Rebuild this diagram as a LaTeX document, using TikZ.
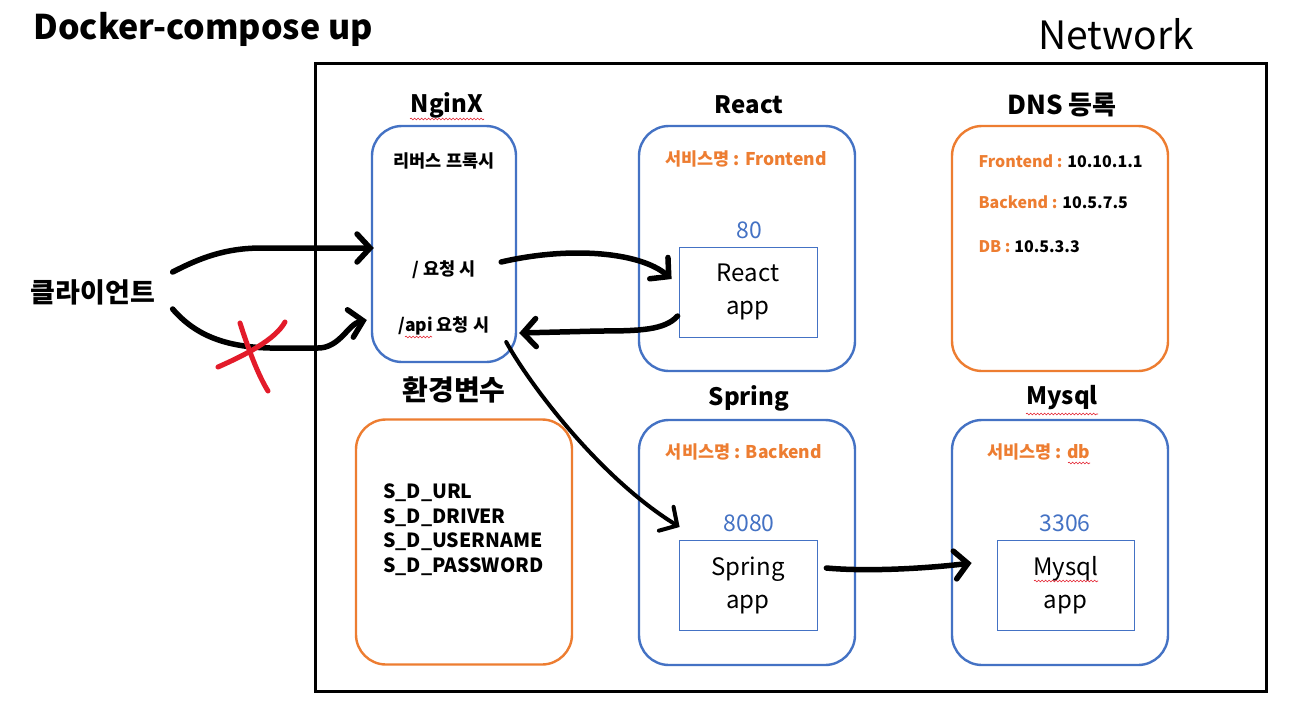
\documentclass[tikz,border=0pt]{standalone}
\usepackage{fontspec}
\setmainfont{Noto Sans CJK KR}
\usetikzlibrary{arrows.meta,decorations.pathmorphing,calc}
\definecolor{bl}{HTML}{4472C4}
\definecolor{orr}{HTML}{ED7D31}
\definecolor{rd}{HTML}{E31B2A}
\begin{document}
\begin{tikzpicture}[x=1pt,y=-1pt,
  bigbox/.style={draw=#1,line width=2.4pt,rounded corners=30pt,minimum width=216pt,minimum height=245pt,inner sep=0pt},
  appbox/.style={draw=bl,line width=0.8pt,minimum width=138pt,minimum height=90pt,inner sep=0pt,align=center,font=\fontsize{24}{33}\selectfont},
  head/.style={font=\fontsize{24}{28}\selectfont\bfseries},
  small/.style={font=\fontsize{17.5}{20}\selectfont\bfseries},
  port/.style={text=bl,font=\fontsize{23}{26}\selectfont},
  svcname/.style={text=orr,font=\fontsize{17.5}{20}\selectfont\bfseries},
  dnst/.style={anchor=west,font=\fontsize{16}{19}\selectfont\bfseries},
  hand/.style={line width=5.5pt,line cap=round,line join=round,-{Straight Barb[length=13pt,width=28pt,line cap=round]}},
  squig/.style={draw=rd,line width=0.6pt,decorate,decoration={snake,amplitude=0.9pt,segment length=3.5pt}}]
\useasboundingbox (0,0) rectangle (1304,715);
\fill[white] (0,0) rectangle (1304,715);

% titles
\node[anchor=west,font=\fontsize{34}{39}\selectfont\bfseries] (title) at (30,29) {Docker-compose up};
\node[font=\fontsize{39}{46}\selectfont] (net) at (1116,34) {Network};
\node[draw,line width=3pt,minimum width=951pt,minimum height=628pt,inner sep=0pt] (frame) at (790.5,377) {};

% boxes
\node[bigbox=bl,minimum width=144pt,minimum height=236pt] (nginx) at (444,244) {};
\node[bigbox=bl] (react) at (747,248.5) {};
\node[bigbox=orr] (dns) at (1060,248.5) {};
\node[bigbox=orr] (env) at (464,542) {};
\node[bigbox=bl] (spring) at (747,542.5) {};
\node[bigbox=bl] (mysql) at (1060,542.5) {};

% headings
\node[head] (hnginx) at (447,105) {NginX};
\node[head] (hreact) at (749,105) {React};
\node[head,font=\fontsize{26}{30}\selectfont\bfseries] (hdns) at (1062,105) {DNS 등록};
\node[head,font=\fontsize{28}{32}\selectfont\bfseries] (henv) at (454,390) {환경변수};
\node[head] (hspring) at (749,398) {Spring};
\node[head] (hmysql) at (1062,398) {Mysql};

% nginx texts
\node[small] (rp) at (444,161) {리버스 프록시};
\node[small] (req1) at (444,270) {/ 요청 시};
\node[small] (req2) at (444,326) {/api 요청 시};

% react
\node[svcname] (sreact) at (746,159) {서비스명 : Frontend};
\node[port] (p80) at (749,230) {80};
\node[appbox] (rapp) at (748,292) {React\\app};

% dns
\node[dnst] (d1) at (975,161) {\textcolor{orr}{Frontend :} 10.10.1.1};
\node[dnst] (d2) at (975,202) {\textcolor{orr}{Backend :} 10.5.7.5};
\node[dnst] (d3) at (975,247) {\textcolor{orr}{DB :} 10.5.3.3};

% env
\node[anchor=north west,align=left,inner sep=0pt,font=\fontsize{19.5}{24.5}\selectfont\bfseries] (envtxt) at (383,484) {S\_D\_URL\\S\_D\_DRIVER\\S\_D\_USERNAME\\S\_D\_PASSWORD};

% spring
\node[svcname] (sspring) at (744,452) {서비스명 : Backend};
\node[port] (p8080) at (749,523) {8080};
\node[appbox] (sapp) at (748,585.5) {Spring\\app};

% mysql
\node[svcname,anchor=west] (smysql) at (984,452) {서비스명 : db};
\node[port] (p3306) at (1065,523) {3306};
\node[appbox,minimum width=137pt] (mapp) at (1065.5,585.5) {Mysql\\app};

% client
\node[font=\fontsize{27}{31}\selectfont\bfseries] (client) at (93,292) {클라이언트};

% squiggles
\draw[squig] (410,119) -- (484,119);
\draw[squig] (1026,414) -- (1098,414);
\draw[squig] (405,337) -- (432,337);
\draw[squig] (1034,581) -- (1098,581);
\draw[squig] (1068,463) -- (1090,463);

% connectors
\draw[hand] ($(client.east)+(14,-20)$) .. controls (200,258) and (225,248) .. (262,248) -- ($(nginx.west)+(3,4)$);
\draw[hand] ($(client.east)+(14,17)$) .. controls (195,335) and (225,347) .. (270,348) -- (318,348) .. controls (340,348) and (348,324) .. ($(nginx.west)+(-4,76)$);
\draw[hand] ($(nginx.east)+(-16,18)$) .. controls (570,246) and (640,252) .. ($(rapp.west)+(-7,-13)$);
\draw[hand] ($(rapp.west)+(-1,24)$) .. controls (665,330) and (640,331) .. (600,331) -- ($(nginx.east)+(2,89)$);
\draw[hand,line width=4pt] ($(nginx.east)+(-11,98)$) .. controls (530,385) and (600,478) .. ($(sapp.west)+(1,-58.5)$);
\draw[hand] ($(sapp.east)+(9,-17.5)$) .. controls (870,572) and (930,568) .. ($(mapp.west)+(-25,-22.5)$);

% red X
\draw[rd,line width=5pt,line cap=round] (218,367) .. controls (245,355) and (275,340) .. (285,322);
\draw[rd,line width=5pt,line cap=round] (240,323) .. controls (248,348) and (258,375) .. (268,391);
\end{tikzpicture}
\end{document}
